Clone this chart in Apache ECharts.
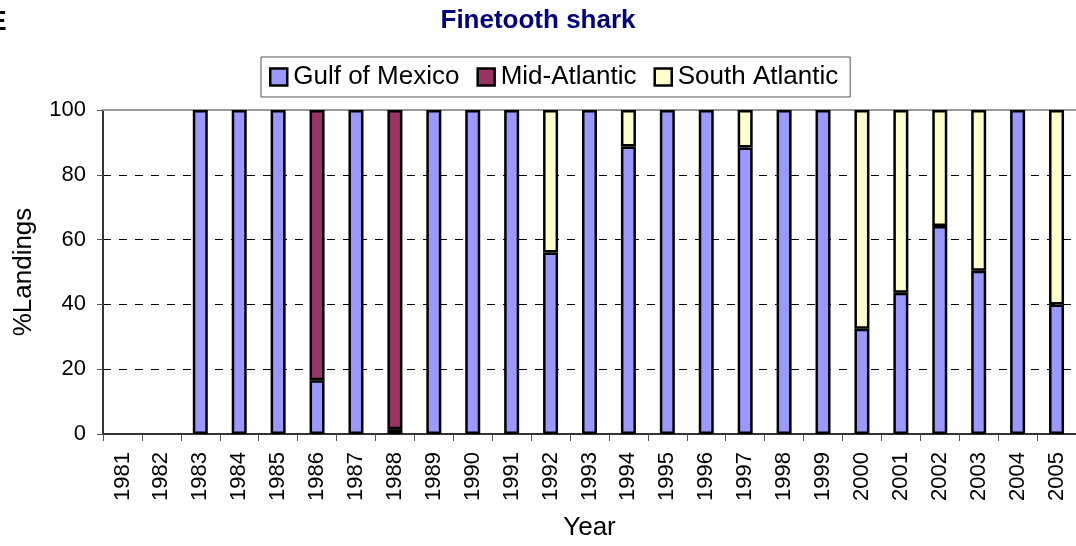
<!DOCTYPE html>
<html>
<head>
<meta charset="utf-8">
<title>Finetooth shark</title>
<script src="https://cdn.jsdelivr.net/npm/echarts@6/dist/echarts.min.js"></script>
<style>
  html, body { margin: 0; padding: 0; background: #fff; }
  #chart { width: 1076px; height: 546px; }
</style>
</head>
<body>
<div id="chart"></div>
<script>
// Share of finetooth shark landings by region, per year (percent)
const years = ['1981','1982','1983','1984','1985','1986','1987','1988','1989','1990',
  '1991','1992','1993','1994','1995','1996','1997','1998','1999','2000',
  '2001','2002','2003','2004','2005'];

const gulfOfMexico = [null, null, 100, 100, 100, 16.6, 100, 1.5, 100, 100,
  100, 56, 100, 88.7, 100, 100, 88.4, 100, 100, 32.5,
  43.6, 64.2, 50.4, 100, 40];

const midAtlantic = [null, null, null, null, null, 83.4, null, 98.5, null, null,
  null, null, null, null, null, null, null, null, null, null,
  null, null, null, null, null];

const southAtlantic = [null, null, null, null, null, null, null, null, null, null,
  null, 44, null, 11.3, null, null, 11.6, null, null, 67.5,
  56.4, 35.8, 49.6, null, 60];

const yTicks = { min: 0, max: 100, interval: 20 };

const FONT = '"Liberation Sans", Arial, sans-serif';
const barBorder = { borderColor: '#000', borderWidth: 2.5 };

function barSeries(name, data, color) {
  return {
    name: name,
    type: 'bar',
    stack: 'region',
    data: data,
    barWidth: 15,
    itemStyle: Object.assign({ color: color }, barBorder),
    emphasis: { disabled: true }
  };
}

const chart = echarts.init(document.getElementById('chart'));

chart.setOption({
  animation: false,
  textStyle: { fontFamily: FONT },
  title: {
    text: 'Finetooth shark',
    left: 'center',
    top: 8,
    padding: 0,
    textStyle: { fontFamily: FONT, fontSize: 26, fontWeight: 'bold', color: '#000080' }
  },
  graphic: [{
    type: 'text',
    left: -12,
    top: 8,
    style: { text: 'E', font: 'bold 28px ' + FONT, fill: '#000' }
  }],
  legend: {
    left: 261,
    top: 57,
    padding: [7, 12, 7, 8],
    itemGap: 17,
    itemWidth: 17,
    itemHeight: 17,
    borderColor: '#555',
    borderWidth: 1,
    icon: 'rect',
    itemStyle: { borderColor: '#000', borderWidth: 2.5 },
    textStyle: { fontFamily: FONT, fontSize: 26, color: '#000', padding: [0, 0, 0, 1] },
    data: ['Gulf of Mexico', 'Mid-Atlantic', 'South Atlantic']
  },
  grid: { left: 103, top: 110, width: 979, height: 326, containLabel: false },
  xAxis: [{
    type: 'category',
    data: years,
    boundaryGap: true,
    name: 'Year',
    nameLocation: 'middle',
    nameGap: 81,
    nameTextStyle: { fontFamily: FONT, fontSize: 26, color: '#000' },
    axisLine: { lineStyle: { color: '#333', width: 2 } },
    axisTick: { show: true, interval: 0, length: 7, lineStyle: { color: '#555', width: 1 } },
    axisLabel: { interval: 0, rotate: 90, margin: 18, fontSize: 22, color: '#000', fontFamily: FONT },
    splitLine: { show: false }
  }, {
    type: 'category',
    data: years,
    position: 'top',
    axisLine: { lineStyle: { color: '#999', width: 2 } },
    axisTick: { show: false },
    axisLabel: { show: false },
    splitLine: { show: false }
  }],
  yAxis: {
    type: 'value',
    min: yTicks.min,
    max: yTicks.max,
    interval: yTicks.interval,
    name: '%Landings',
    nameLocation: 'middle',
    nameGap: 66,
    nameTextStyle: { fontFamily: FONT, fontSize: 26, color: '#000' },
    axisLine: { show: true, lineStyle: { color: '#333', width: 2 } },
    axisTick: { show: true, length: 6, lineStyle: { color: '#555', width: 1 } },
    axisLabel: { margin: 17, fontSize: 22, color: '#000', fontFamily: FONT },
    splitLine: { show: true, lineStyle: { color: '#000', width: 1, type: [8, 8] } }
  },
  series: [
    barSeries('Gulf of Mexico', gulfOfMexico, '#9999FF'),
    barSeries('Mid-Atlantic', midAtlantic, '#993366'),
    barSeries('South Atlantic', southAtlantic, '#FFFFCC')
  ]
});
</script>
</body>
</html>
